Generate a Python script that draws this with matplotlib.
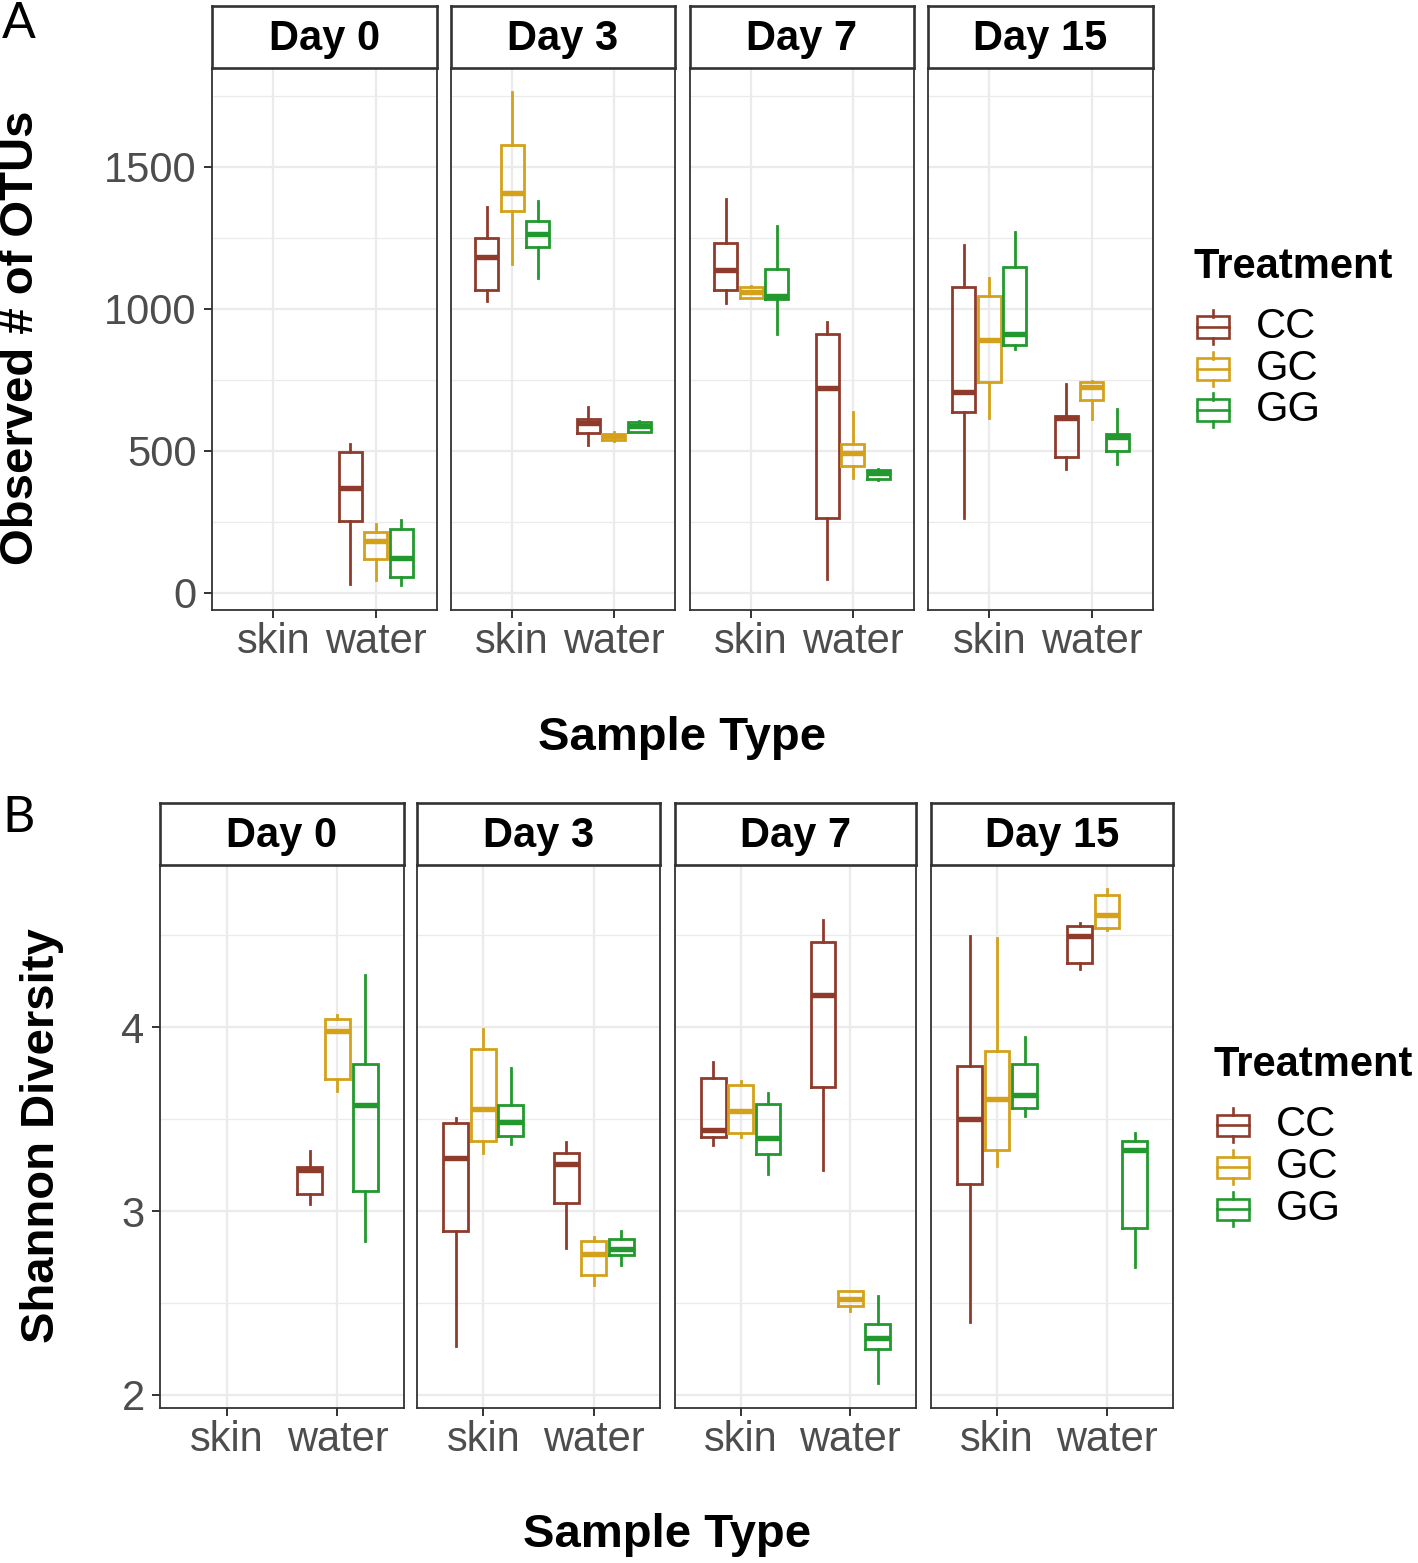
import numpy as np
import matplotlib
matplotlib.use("Agg")
import matplotlib.pyplot as plt
from matplotlib.patches import Rectangle
from matplotlib.lines import Line2D

nan = np.nan

# ---------------- data ----------------
days = ["Day 0", "Day 3", "Day 7", "Day 15"]
sample_types = ["skin", "water"]
treatments = ["CC", "GC", "GG"]
colors = {"CC": "#8E3B2C", "GC": "#D4A11A", "GG": "#22992E"}

# order of groups: (Day0 skin, Day0 water, Day3 skin, Day3 water, Day7 skin, Day7 water, Day15 skin, Day15 water)
otu_CC_whislo = [nan, 31, 1029, 519, 1020, 50, 264, 437]
otu_CC_q1 = [nan, 252, 1068, 563, 1065, 262, 635, 479]
otu_CC_med = [nan, 368, 1181, 598, 1136, 720, 708, 617]
otu_CC_q3 = [nan, 497, 1249, 611, 1232, 912, 1077, 623]
otu_CC_whishi = [nan, 523, 1360, 655, 1385, 955, 1225, 737]

otu_GC_whislo = [nan, 44, 1159, 535, 1037, 403, 617, 611]
otu_GC_q1 = [nan, 120, 1345, 539, 1037, 445, 741, 678]
otu_GC_med = [nan, 181, 1407, 552, 1060, 491, 889, 724]
otu_GC_q3 = [nan, 214, 1578, 560, 1076, 525, 1045, 743]
otu_GC_whishi = [nan, 242, 1763, 565, 1081, 636, 1108, 746]

otu_GG_whislo = [nan, 28, 1108, 565, 913, 398, 859, 453]
otu_GG_q1 = [nan, 55, 1219, 567, 1035, 400, 874, 500]
otu_GG_med = [nan, 123, 1262, 586, 1045, 422, 912, 548]
otu_GG_q3 = [nan, 224, 1310, 601, 1141, 432, 1146, 559]
otu_GG_whishi = [nan, 258, 1379, 605, 1290, 435, 1270, 649]

sh_CC_whislo = [nan, 3.036, 2.267, 2.798, 3.357, 3.221, 2.397, 4.317]
sh_CC_q1 = [nan, 3.093, 2.894, 3.042, 3.402, 3.677, 3.147, 4.347]
sh_CC_med = [nan, 3.221, 3.287, 3.254, 3.441, 4.175, 3.498, 4.493]
sh_CC_q3 = [nan, 3.237, 3.478, 3.315, 3.723, 4.462, 3.790, 4.551]
sh_CC_whishi = [nan, 3.324, 3.507, 3.377, 3.809, 4.584, 4.497, 4.565]

sh_GC_whislo = [nan, 3.655, 3.318, 2.598, 3.400, 2.458, 3.246, 4.530]
sh_GC_q1 = [nan, 3.720, 3.379, 2.652, 3.422, 2.481, 3.332, 4.541]
sh_GC_med = [nan, 3.977, 3.556, 2.765, 3.546, 2.524, 3.607, 4.610]
sh_GC_q3 = [nan, 4.045, 3.881, 2.837, 3.688, 2.563, 3.868, 4.721]
sh_GC_whishi = [nan, 4.064, 3.990, 2.861, 3.708, 2.563, 4.483, 4.750]

sh_GG_whislo = [nan, 2.837, 3.367, 2.709, 3.202, 2.066, 3.519, 2.695]
sh_GG_q1 = [nan, 3.108, 3.406, 2.761, 3.309, 2.251, 3.562, 2.909]
sh_GG_med = [nan, 3.577, 3.484, 2.793, 3.396, 2.312, 3.630, 3.334]
sh_GG_q3 = [nan, 3.799, 3.577, 2.847, 3.581, 2.384, 3.801, 3.381]
sh_GG_whishi = [nan, 4.282, 3.780, 2.894, 3.644, 2.536, 3.947, 3.425]

otu_stats = {
    "CC": (otu_CC_whislo, otu_CC_q1, otu_CC_med, otu_CC_q3, otu_CC_whishi),
    "GC": (otu_GC_whislo, otu_GC_q1, otu_GC_med, otu_GC_q3, otu_GC_whishi),
    "GG": (otu_GG_whislo, otu_GG_q1, otu_GG_med, otu_GG_q3, otu_GG_whishi),
}
sh_stats = {
    "CC": (sh_CC_whislo, sh_CC_q1, sh_CC_med, sh_CC_q3, sh_CC_whishi),
    "GC": (sh_GC_whislo, sh_GC_q1, sh_GC_med, sh_GC_q3, sh_GC_whishi),
    "GG": (sh_GG_whislo, sh_GG_q1, sh_GG_med, sh_GG_q3, sh_GG_whishi),
}

otu_yticks = [0, 500, 1000, 1500]
otu_yminor = [250, 750, 1250, 1750]
sh_yticks = [2, 3, 4]
sh_yminor = [2.5, 3.5, 4.5]

# ---------------- layout ----------------
W, H = 1418, 1563
plt.rcParams["font.family"] = ["Liberation Sans", "DejaVu Sans"]
fig = plt.figure(figsize=(W / 100, H / 100), dpi=100)


def ax_at(x0, y0, x1, y1):
    return fig.add_axes([x0 / W, 1 - y1 / H, (x1 - x0) / W, (y1 - y0) / H])


DARK = "#333333"
GRID = "#EBEBEB"
TICKC = "#4D4D4D"
offsets = {"CC": -0.25, "GC": 0.0, "GG": 0.25}


def draw_metric(stats, facet_x, strip_y, panel_y, yticks, yminor):
    allv = []
    for t in treatments:
        for arr in stats[t]:
            allv += [v for v in arr if not np.isnan(v)]
    lo, hi = min(allv), max(allv)
    rng = hi - lo
    ylo, yhi = lo - 0.05 * rng, hi + 0.05 * rng
    for i, day in enumerate(days):
        x0, x1 = facet_x[i]
        ax = ax_at(x0, panel_y[0], x1, panel_y[1])
        ax.set_xlim(0.4, 2.6)
        ax.set_ylim(ylo, yhi)
        ax.set_xticks([1, 2])
        ax.set_xticklabels(sample_types)
        ax.set_yticks(yticks)
        ax.set_yticklabels([str(v) for v in yticks])
        ax.set_yticks(yminor, minor=True)
        ax.grid(which="major", color=GRID, lw=1.6)
        ax.grid(which="minor", axis="y", color=GRID, lw=0.9)
        ax.set_axisbelow(True)
        ax.tick_params(which="minor", length=0)
        ax.tick_params(which="major", length=6, width=1.4, color=DARK,
                       labelsize=30, labelcolor=TICKC, pad=3)
        ax.tick_params(axis="y", pad=5)
        if i > 0:
            ax.tick_params(axis="y", which="major", left=False, labelleft=False)
        for sp in ax.spines.values():
            sp.set_color(DARK)
            sp.set_linewidth(1.3)
        for t in treatments:
            wl, q1, md, q3, wh = stats[t]
            c = colors[t]
            for s in range(2):
                k = i * 2 + s
                if np.isnan(md[k]):
                    continue
                st = [dict(med=md[k], q1=q1[k], q3=q3[k], whislo=wl[k],
                           whishi=wh[k], fliers=[])]
                ax.bxp(st, positions=[s + 1 + offsets[t]], widths=0.225,
                       showcaps=False, manage_ticks=False,
                       boxprops=dict(color=c, lw=2.0, solid_joinstyle="miter"),
                       whiskerprops=dict(color=c, lw=2.0),
                       medianprops=dict(color=c, lw=3.9, solid_capstyle="butt"))
        sax = ax_at(x0, strip_y[0], x1, strip_y[1])
        sax.set_xticks([])
        sax.set_yticks([])
        for sp in sax.spines.values():
            sp.set_color(DARK)
            sp.set_linewidth(1.9)
        sax.text(0.5, 0.47, day, ha="center", va="center", fontsize=30,
                 fontweight="bold", transform=sax.transAxes)


def draw_legend(x, y_title, y_keys):
    fig.text(x / W, 1 - y_title / H, "Treatment", fontsize=30, fontweight="bold",
             ha="left", va="center")
    for t, yk in zip(treatments, y_keys):
        c = colors[t]
        bx0, bx1 = x + 3, x + 35
        cx = (bx0 + bx1) / 2
        fig.add_artist(Rectangle((bx0 / W, 1 - (yk + 10.5) / H), (bx1 - bx0) / W, 21 / H,
                                 transform=fig.transFigure, fill=False, edgecolor=c, lw=1.9))
        fig.add_artist(Line2D([bx0 / W, bx1 / W], [1 - yk / H, 1 - yk / H],
                              transform=fig.transFigure, color=c, lw=1.9))
        fig.add_artist(Line2D([cx / W, cx / W], [1 - (yk - 17) / H, 1 - (yk - 10.5) / H],
                              transform=fig.transFigure, color=c, lw=1.9))
        fig.add_artist(Line2D([cx / W, cx / W], [1 - (yk + 10.5) / H, 1 - (yk + 17) / H],
                              transform=fig.transFigure, color=c, lw=1.9))
        fig.text((x + 62) / W, 1 - yk / H, t, fontsize=30, ha="left", va="center")


# Panel A
draw_metric(otu_stats, [(212, 437), (451, 675), (690, 914), (928, 1153)],
            (6, 67.5), (67.5, 609.5), otu_yticks, otu_yminor)
fig.text(21 / W, 1 - 338 / H, "Observed # of OTUs", rotation=90, fontsize=34,
         fontweight="bold", ha="center", va="center")
fig.text(682 / W, 1 - 738 / H, "Sample Type", fontsize=34, fontweight="bold",
         ha="center", va="center")
draw_legend(1194, 267, [327, 369, 410])
fig.text(2 / W, 1 - 24 / H, "A", fontsize=36, family=["Lato", "DejaVu Sans"],
         ha="left", va="center")

# Panel B
draw_metric(sh_stats, [(160, 404), (417, 660), (675, 916), (931, 1173)],
            (803, 864.5), (864.5, 1407.5), sh_yticks, sh_yminor)
fig.text(42 / W, 1 - 1136 / H, "Shannon Diversity", rotation=90, fontsize=34,
         fontweight="bold", ha="center", va="center")
fig.text(667 / W, 1 - 1535 / H, "Sample Type", fontsize=34, fontweight="bold",
         ha="center", va="center")
draw_legend(1214, 1065, [1125, 1167, 1209])
fig.text(2 / W, 1 - 818 / H, "B", fontsize=36, family=["Lato", "DejaVu Sans"],
         ha="left", va="center")

fig.savefig("out.png", dpi=100)
